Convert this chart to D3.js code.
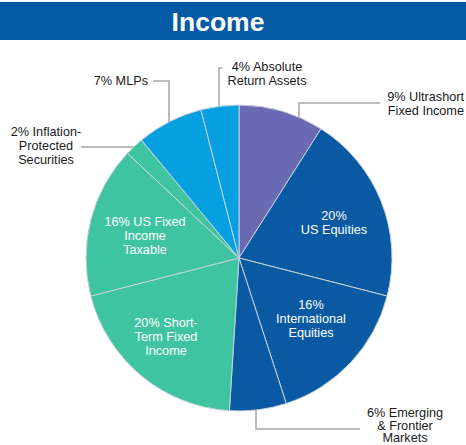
<!DOCTYPE html>
<html>
<head>
<meta charset="utf-8">
<script src="https://cdn.jsdelivr.net/npm/d3@7"></script>
<style>
  html, body { margin: 0; padding: 0; background: #fff; }
  svg { display: block; font-family: "Liberation Sans", Arial, sans-serif; }
</style>
</head>
<body>
<svg id="chart" width="466" height="445"></svg>
<script>
// ---- data ----
const title = "Income";
const categories = [
  "Ultrashort Fixed Income",
  "US Equities",
  "International Equities",
  "Emerging & Frontier Markets",
  "Short-Term Fixed Income",
  "US Fixed Income Taxable",
  "Inflation-Protected Securities",
  "MLPs",
  "Absolute Return Assets"
];
const values = [9, 20, 16, 6, 20, 16, 2, 7, 4];
const labelLines = [
  ["9% Ultrashort", "Fixed Income"],
  ["20%", "US Equities"],
  ["16%", "International", "Equities"],
  ["6% Emerging", "& Frontier", "Markets"],
  ["20% Short-", "Term Fixed", "Income"],
  ["16% US Fixed", "Income", "Taxable"],
  ["2% Inflation-", "Protected", "Securities"],
  ["7% MLPs"],
  ["4% Absolute", "Return Assets"]
];

// ---- styles / layout ----
const colors = ["#6a69b4", "#0a5aa3", "#0a5aa3", "#0a5aa3", "#3fc4a1", "#3fc4a1", "#3fc4a1", "#06a0e0", "#06a0e0"];
const cx = 239, cy = 258, R = 153;
const fontSize = 12.7, lineH = 14;
const layout = [
  { x: 464, y: 97, anchor: "end", fill: "#1a1a1a", leaderX: 299, leader: [[299, 103], [380, 103]] },
  { x: 334, y: 216, anchor: "middle", fill: "#ffffff" },
  { x: 311, y: 305, anchor: "middle", fill: "#ffffff" },
  { x: 405, y: 413, anchor: "middle", fill: "#1a1a1a", lh: 12.5, leaderX: 256, leader: [[256, 429], [360, 429]] },
  { x: 166, y: 323, anchor: "middle", fill: "#ffffff" },
  { x: 145, y: 222, anchor: "middle", fill: "#ffffff" },
  { x: 46, y: 132, anchor: "middle", fill: "#1a1a1a", leaderY: 147, leader: [[81, 147]] },
  { x: 148, y: 81, anchor: "end", fill: "#1a1a1a", leaderX: 169, leader: [[169, 81], [153, 81]] },
  { x: 267, y: 67, anchor: "middle", fill: "#1a1a1a", leaderX: 219, leader: [[219, 68], [222, 68]] }
];

const svg = d3.select("#chart");

// title bar
svg.append("rect").attr("x", 0).attr("y", 2).attr("width", 466).attr("height", 38).attr("fill", "#055aa5");
svg.append("text").attr("x", 218).attr("y", 31).attr("text-anchor", "middle")
  .attr("fill", "#fff").attr("font-weight", "bold").attr("font-size", 26.5).text(title);

// pie
const pie = d3.pie().sort(null).value(d => d);
const arcs = pie(values);
const arc = d3.arc().innerRadius(0).outerRadius(R);

const g = svg.append("g").attr("transform", `translate(${cx},${cy})`);
g.selectAll("path").data(arcs).join("path")
  .attr("d", arc)
  .attr("fill", (d, i) => colors[i])
  .attr("stroke", "#c8d2dc")
  .attr("stroke-width", 1);

// leader lines
layout.forEach((L, i) => {
  if (!L.leader) return;
  let start;
  if (L.leaderX != null) {
    const dx = L.leaderX - cx;
    const dy = Math.sqrt(R * R - dx * dx);
    const firstY = L.leader[0][1];
    start = [L.leaderX, firstY < cy ? cy - dy : cy + dy];
  } else {
    const dy = L.leaderY - cy;
    const dx = Math.sqrt(R * R - dy * dy);
    start = [L.leader[0][0] < cx ? cx - dx : cx + dx, L.leaderY];
  }
  const pts = [start].concat(L.leader);
  svg.append("path")
    .attr("d", d3.line()(pts))
    .attr("fill", "none")
    .attr("stroke", "#a6a6a6")
    .attr("stroke-width", 1.5);
});

// labels
layout.forEach((L, i) => {
  const lh = L.lh || lineH;
  const t = svg.append("text")
    .attr("x", L.x).attr("y", L.y)
    .attr("text-anchor", L.anchor)
    .attr("dominant-baseline", "central")
    .attr("fill", L.fill)
    .attr("font-size", fontSize);
  labelLines[i].forEach((s, k) => {
    t.append("tspan").attr("x", L.x).attr("y", L.y + k * lh).text(s);
  });
});
</script>
</body>
</html>
